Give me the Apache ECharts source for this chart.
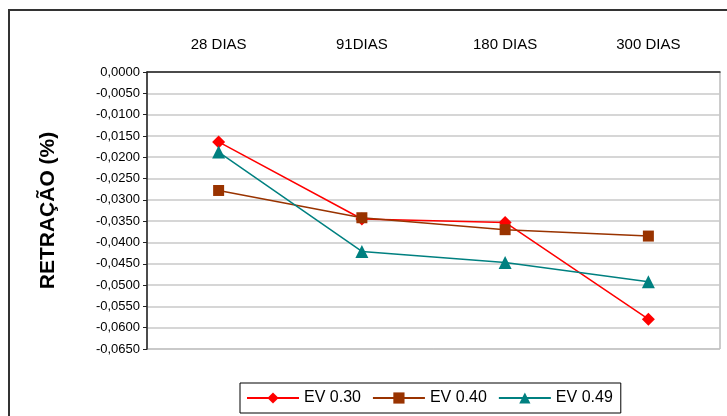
<!DOCTYPE html>
<html>
<head>
<meta charset="utf-8">
<script src="https://cdn.jsdelivr.net/npm/echarts@6/dist/echarts.min.js"></script>
<style>
html,body{margin:0;padding:0;background:#fff;}
#main{width:727px;height:416px;}
</style>
</head>
<body>
<div id="main"></div>
<script>
var categories = ['28 DIAS', '91DIAS', '180 DIAS', '300 DIAS'];
var ev030 = [-0.0164, -0.0345, -0.0353, -0.0580];
var ev040 = [-0.0278, -0.0342, -0.0370, -0.0385];
var ev049 = [-0.0188, -0.0421, -0.0447, -0.0492];

initChart();

function initChart(){
	var myChart = echarts.init(document.getElementById('main'));
	var font = 'Liberation Sans, Arial, sans-serif';
	// 图表配置
	var option = {
		animation: false,
		textStyle: {fontFamily: font},
		grid: {
			left: 147,
			top: 72,
			right: 7,
			bottom: 67,
			show: true,
			borderColor: '#999999',
			borderWidth: 1
		},
		graphic: [
			{
				type: 'rect',
				shape: {x: 9, y: 10, width: 740, height: 420},
				style: {fill: 'none', stroke: '#333333', lineWidth: 2}
			}
		],
		legend: {
			left: 240,
			top: 383,
			width: 382,
			height: 31,
			padding: [7, 8, 7, 6],
			itemGap: 11,
			itemWidth: 52,
			itemHeight: 14,
			borderColor: '#000',
			borderWidth: 1,
			textStyle: {fontSize: 16, color: '#000', fontFamily: font},
			data: ['EV 0.30', 'EV 0.40', 'EV 0.49']
		},
		xAxis: {
			type: 'category',
			position: 'top',
			data: categories,
			boundaryGap: true,
			axisLine: {lineStyle: {color: '#222', width: 1.5}},
			axisTick: {inside: true, length: 5, lineStyle: {color: '#222'}},
			axisLabel: {fontSize: 15, color: '#000', margin: 20}
		},
		yAxis: {
			type: 'value',
			min: -0.065,
			max: 0,
			interval: 0.005,
			name: 'RETRAÇÃO (%)',
			nameLocation: 'middle',
			nameGap: 88,
			nameTextStyle: {fontSize: 21, fontWeight: 'bold', color: '#000'},
			axisLine: {show: true, lineStyle: {color: '#222', width: 1.5}},
			axisTick: {show: true, length: 4, lineStyle: {color: '#222'}},
			axisLabel: {
				fontSize: 13,
				color: '#000',
				margin: 7,
				formatter: function (v) {
					var s = Math.abs(v).toFixed(4).replace('.', ',');
					return (v < -1e-9 ? '-' : '') + s;
				}
			},
			splitLine: {lineStyle: {color: '#c8c8c8', width: 1.5}}
		},
		series: [
			{
				name: 'EV 0.30',
				type: 'line',
				data: ev030,
				symbol: 'diamond',
				symbolSize: 13,
				itemStyle: {color: '#ff0000'},
				lineStyle: {color: '#ff0000', width: 1.5}
			},
			{
				name: 'EV 0.40',
				type: 'line',
				data: ev040,
				symbol: 'rect',
				symbolSize: 11,
				itemStyle: {color: '#993300'},
				lineStyle: {color: '#993300', width: 1.5}
			},
			{
				name: 'EV 0.49',
				type: 'line',
				data: ev049,
				symbol: 'triangle',
				symbolSize: 13,
				itemStyle: {color: '#008080'},
				lineStyle: {color: '#008080', width: 1.5}
			}
		]
	};
	myChart.setOption(option);
}
</script>
</body>
</html>
